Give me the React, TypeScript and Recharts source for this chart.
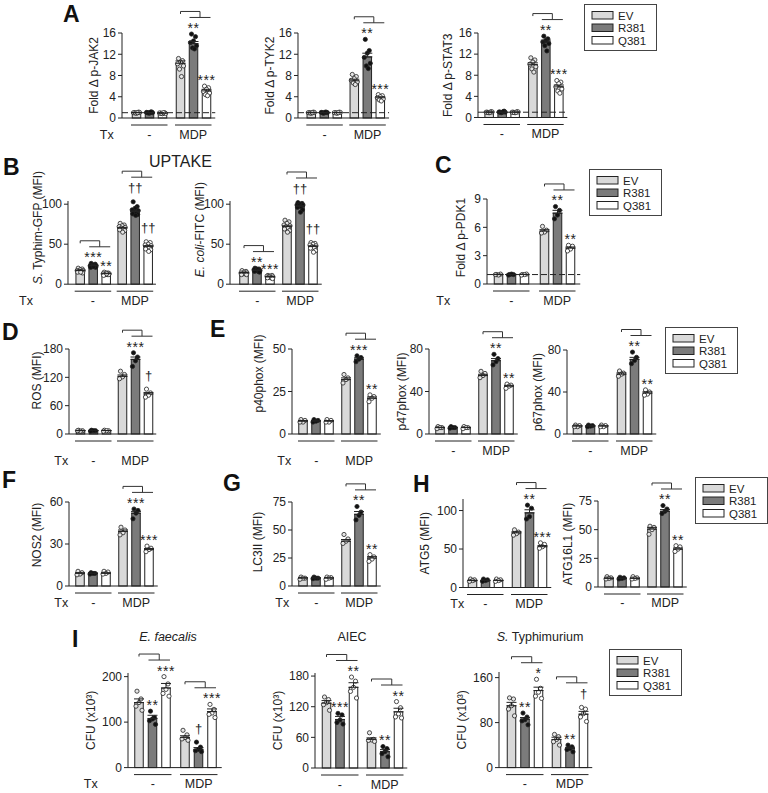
import React from 'react'
import { BarChart, Bar, XAxis, YAxis, ErrorBar, ReferenceLine } from 'recharts'

const GROUPS = ['-', 'MDP']
const GENOTYPES = ['EV', 'R381', 'Q381']
const FILLS = ['#d9d9d9', '#7b7b7b', '#ffffff']
const DOT_FILLS = ['#e6e6e6', '#111111', '#ffffff']

const FONT = '"Liberation Sans", Arial, Helvetica, sans-serif'
const INK = '#222'

// ---- A: fold change phospho ----
const A_TICKS = [0, 4, 8, 12, 16]
const JAK2_MEAN = [[1.0, 1.0, 0.9], [10.3, 14.0, 5.1]]
const JAK2_SEM = [[0.05, 0.05, 0.05], [0.45, 0.4, 0.3]]
const JAK2_DOTS = [
  [[1.0, 1.1, 0.9, 1.0, 1.05, 0.95, 1.0], [1.0, 1.15, 0.9, 1.05, 1.0, 0.95, 1.1], [0.9, 1.0, 0.8, 0.95, 0.85, 0.9, 1.0]],
  [[11.2, 10.8, 10.5, 10.2, 9.8, 9.2, 7.8], [15.8, 15.3, 14.5, 14.2, 13.6, 13.2, 13.0], [6.0, 5.7, 5.4, 5.0, 4.7, 4.4, 4.2]],
]
const JAK2_SIG = [['', '', ''], ['', '**', '***']]

const TYK2_MEAN = [[1.0, 1.0, 1.0], [7.0, 11.5, 3.8]]
const TYK2_SEM = [[0.05, 0.05, 0.05], [0.3, 0.7, 0.2]]
const TYK2_DOTS = [
  [[1.0, 1.1, 0.9, 1.0, 1.05, 0.95, 1.0], [1.0, 1.1, 0.95, 1.05, 1.0, 0.9, 1.1], [1.0, 1.1, 0.9, 1.0, 1.05, 0.95, 1.0]],
  [[8.2, 7.8, 7.4, 7.1, 6.8, 6.6, 6.3], [14.8, 12.7, 12.2, 11.4, 10.3, 9.8, 9.3], [4.4, 4.2, 4.0, 3.8, 3.6, 3.4, 3.2]],
]
const TYK2_SIG = [['', '', ''], ['', '**', '***']]

const STAT3_MEAN = [[1.0, 1.0, 1.0], [10.0, 14.3, 5.8]]
const STAT3_SEM = [[0.05, 0.05, 0.05], [0.35, 0.35, 0.35]]
const STAT3_DOTS = [
  [[1.0, 1.1, 0.9, 1.0, 1.05, 0.95, 1.0], [1.0, 1.2, 0.95, 1.05, 1.0, 0.9, 1.1], [1.0, 1.1, 0.9, 1.0, 1.05, 0.95, 1.0]],
  [[11.3, 10.9, 10.5, 10.1, 9.6, 9.2, 8.6], [15.4, 14.9, 14.6, 14.3, 14.0, 13.6, 12.6], [7.0, 6.7, 6.4, 5.8, 5.4, 5.0, 4.6]],
]
const STAT3_SIG = [['', '', ''], ['', '**', '***']]

// ---- B: uptake ----
const B_TICKS = [0, 50, 100]
const TYPHIM_MEAN = [[17, 23, 13], [70, 91, 47]]
const TYPHIM_SEM = [[0.7, 0.7, 0.6], [1.0, 1.5, 1.2]]
const TYPHIM_DOTS = [
  [[20, 19, 18, 17, 17, 16, 16, 15, 14, 15], [26, 25, 24, 23, 23, 22, 22, 21, 21, 22], [15, 14, 14, 13, 13, 12, 12, 11, 12, 13]],
  [[76, 74, 73, 72, 71, 70, 69, 68, 67, 65], [103, 97, 95, 93, 92, 90, 89, 88, 87, 86], [53, 52, 50, 49, 48, 47, 46, 44, 43, 41]],
]
const TYPHIM_SIG = [['', '***', '**'], ['', '††', '††']]

const ECOLI_MEAN = [[14, 17, 9], [72, 97, 47]]
const ECOLI_SEM = [[0.6, 0.6, 0.5], [1.0, 1.2, 1.0]]
const ECOLI_DOTS = [
  [[17, 16, 15, 14, 14, 13, 13, 12, 12], [20, 19, 19, 18, 17, 17, 16, 16, 15], [11, 11, 10, 10, 9, 9, 8, 8, 7]],
  [[80, 78, 76, 74, 73, 72, 70, 69, 67, 65], [102, 101, 100, 99, 99, 98, 97, 96, 93, 90], [52, 51, 50, 49, 48, 47, 46, 45, 42, 40]],
]
const ECOLI_SIG = [['', '**', '***'], ['', '††', '††']]

// ---- C ----
const PDK1_MEAN = [[1.0, 1.0, 1.0], [5.6, 7.5, 3.8]]
const PDK1_SEM = [[0.03, 0.03, 0.03], [0.15, 0.3, 0.12]]
const PDK1_DOTS = [
  [[1.0, 1.05, 0.95, 1.0], [1.0, 1.0, 1.05, 0.95], [1.0, 1.05, 1.0, 0.95]],
  [[6.1, 5.7, 5.5, 5.4], [8.2, 7.8, 7.3, 6.9], [4.1, 4.0, 3.7, 3.5]],
]
const PDK1_SIG = [['', '', ''], ['', '**', '**']]

// ---- D / E ----
const ROS_MEAN = [[7, 7, 7], [122, 158, 85]]
const ROS_SEM = [[0.5, 0.5, 0.5], [3, 5, 3]]
const ROS_DOTS = [
  [[8, 7, 6, 7], [8, 7, 7, 6], [8, 7, 7, 6]],
  [[133, 126, 121, 117], [172, 163, 155, 143], [95, 87, 82, 78]],
]
const ROS_SIG = [['', '', ''], ['', '***', '†']]

const P40_MEAN = [[7.5, 7.5, 7.5], [32, 44, 21]]
const P40_SEM = [[0.4, 0.4, 0.4], [1, 0.8, 0.8]]
const P40_DOTS = [
  [[8.5, 8, 7, 7], [8.5, 8, 7.5, 7], [8.5, 8, 7, 7]],
  [[35, 33, 32, 30], [46, 45, 44, 42.5], [23, 22, 21, 19]],
]
const P40_SIG = [['', '', ''], ['', '***', '**']]

const P47_MEAN = [[6, 6, 6], [55, 69, 45]]
const P47_SEM = [[0.3, 0.3, 0.3], [1.2, 2, 0.8]]
const P47_DOTS = [
  [[7, 6, 6, 5], [7, 6, 6, 5.5], [7, 6, 6, 5]],
  [[59, 57, 55, 53], [75, 71, 68, 65], [47, 46, 45, 43]],
]
const P47_SIG = [['', '', ''], ['', '**', '**']]

const P67_MEAN = [[7.5, 7.5, 7.5], [57, 71, 39]]
const P67_SEM = [[0.4, 0.4, 0.4], [1.2, 2, 1.2]]
const P67_DOTS = [
  [[8.5, 8, 7, 7], [8.5, 8, 7.5, 7], [8.5, 8, 7, 7]],
  [[60, 58, 57, 55], [78, 73, 70, 67], [42, 40, 38, 37]],
]
const P67_SIG = [['', '', ''], ['', '**', '**']]

// ---- F / G / H ----
const NOS2_MEAN = [[9, 9, 9], [39, 52, 26]]
const NOS2_SEM = [[0.5, 0.3, 0.5], [1, 1.3, 0.8]]
const NOS2_DOTS = [
  [[10.5, 9.5, 8.5, 8], [9.5, 9, 9, 8.5], [10.5, 10, 9, 8.5]],
  [[42, 40, 38, 36.5], [55, 54, 52, 48], [28.5, 27, 26, 24.5]],
]
const NOS2_SIG = [['', '', ''], ['', '***', '***']]

const LC3_MEAN = [[7, 7, 7], [40, 64, 25]]
const LC3_SEM = [[0.4, 0.4, 0.4], [1.5, 2.5, 1.2]]
const LC3_DOTS = [
  [[8, 7, 7, 6], [8, 7, 7, 6.5], [8, 7.5, 7, 6]],
  [[46, 42, 40, 38], [71, 66, 63, 59], [28, 26, 24, 22]],
]
const LC3_SIG = [['', '', ''], ['', '**', '**']]

const ATG5_MEAN = [[9, 9, 9], [71, 97, 53]]
const ATG5_SEM = [[0.5, 0.5, 0.5], [1.5, 4, 1.5]]
const ATG5_DOTS = [
  [[11, 10, 9, 8], [11, 10, 9, 8], [11, 10, 9, 8]],
  [[75, 72, 70, 68], [107, 103, 92, 89], [58, 56, 53, 51]],
]
const ATG5_SIG = [['', '', ''], ['', '**', '***']]

const ATG16_MEAN = [[7.5, 7.5, 7.5], [50.5, 66, 33]]
const ATG16_SEM = [[0.4, 0.4, 0.4], [1.5, 1.5, 1]]
const ATG16_DOTS = [
  [[9, 8, 7.5, 7], [8.5, 8, 7.5, 7], [9, 8, 7.5, 7]],
  [[53, 52, 50, 46], [71, 68, 66, 64], [36, 35, 33, 31]],
]
const ATG16_SIG = [['', '', ''], ['', '**', '**']]

// ---- I: CFU ----
const EF_MEAN = [[143, 108, 175], [66, 40, 123]]
const EF_SEM = [[8, 7, 10], [4, 4, 6]]
const EF_DOTS = [
  [[168, 151, 143, 135, 126], [124, 110, 107, 103, 95], [200, 184, 172, 163, 157]],
  [[82, 72, 66, 63, 60], [56, 45, 40, 37, 35], [139, 128, 120, 117, 110]],
]
const EF_SIG = [['', '**', '***'], ['', '†', '***']]

const AIEC_MEAN = [[127, 95, 158], [56, 32, 110]]
const AIEC_SEM = [[5, 6, 9], [3, 4, 7]]
const AIEC_DOTS = [
  [[139, 134, 128, 124, 113], [107, 104, 94, 89, 86], [178, 170, 158, 150, 137]],
  [[69, 56, 55, 54, 52], [42, 38, 32, 28, 22], [130, 118, 106, 100, 98]],
]
const AIEC_SIG = [['', '***', '**'], ['', '**', '**']]

const ST_MEAN = [[110, 86, 137], [50, 34, 95]]
const ST_SEM = [[6, 3, 6], [4, 2, 5]]
const ST_DOTS = [
  [[124, 122, 110, 104, 92], [97, 90, 85, 83, 76], [157, 141, 134, 127, 123]],
  [[59, 55, 50, 46, 40], [40, 37, 34, 32, 28], [107, 104, 96, 90, 82]],
]
const ST_SIG = [['', '**', '*'], ['', '**', '†']]

type PanelCfg = {
  id: string
  yTitle: React.ReactNode
  mean: number[][]
  sem: number[][]
  dots: number[][][]
  sig: string[][]
  max: number
  ticks: number[]
  axisX: number
  yTop: number
  yBot: number
  band: number
  off: number
  txDx?: number
  labDy?: number
  yLabDx: number
  yLabDy?: number
  dashed?: boolean
  gap?: number
}

const it = (s: string) => <tspan fontStyle="italic">{s}</tspan>

const PANELS: PanelCfg[] = [
  { id: 'jak2', yTitle: 'Fold Δ p-JAK2', mean: JAK2_MEAN, sem: JAK2_SEM, dots: JAK2_DOTS, sig: JAK2_SIG, max: 16, ticks: A_TICKS, axisX: 122, yTop: 33.3, yBot: 118.3, band: 44, off: 10, txDx: -42.5, yLabDx: 28, dashed: true },
  { id: 'tyk2', yTitle: 'Fold Δ p-TYK2', mean: TYK2_MEAN, sem: TYK2_SEM, dots: TYK2_DOTS, sig: TYK2_SIG, max: 16, ticks: A_TICKS, axisX: 297.7, yTop: 33.3, yBot: 118.3, band: 43, off: 9.3, yLabDx: 28, dashed: true },
  { id: 'stat3', yTitle: 'Fold Δ p-STAT3', mean: STAT3_MEAN, sem: STAT3_SEM, dots: STAT3_DOTS, sig: STAT3_SIG, max: 16, ticks: A_TICKS, axisX: 477.7, yTop: 33.3, yBot: 117.8, band: 43.7, off: 6.5, yLabDx: 29.5, dashed: true },
  { id: 'typhim', yTitle: <>{it('S.')}{' Typhim-GFP (MFI)'}</>, mean: TYPHIM_MEAN, sem: TYPHIM_SEM, dots: TYPHIM_DOTS, sig: TYPHIM_SIG, max: 104, ticks: B_TICKS, axisX: 68.3, yTop: 200.8, yBot: 284, band: 42, off: 7.7, txDx: -67, yLabDx: 30, yLabDy: -15 },
  { id: 'ecoli', yTitle: <>{it('E. coli')}{'-FITC (MFI)'}</>, mean: ECOLI_MEAN, sem: ECOLI_SEM, dots: ECOLI_DOTS, sig: ECOLI_SIG, max: 104, ticks: B_TICKS, axisX: 230, yTop: 200.8, yBot: 284, band: 43, off: 10, yLabDx: 30, yLabDy: -13 },
  { id: 'pdk1', yTitle: 'Fold Δ p-PDK1', mean: PDK1_MEAN, sem: PDK1_SEM, dots: PDK1_DOTS, sig: PDK1_SIG, max: 9, ticks: [0, 3, 6, 9], axisX: 487, yTop: 199, yBot: 284, band: 46, off: 7, txDx: -68, yLabDx: 26, yLabDy: -4, dashed: true },
  { id: 'ros', yTitle: 'ROS (MFI)', mean: ROS_MEAN, sem: ROS_SEM, dots: ROS_DOTS, sig: ROS_SIG, max: 180, ticks: [0, 60, 120, 180], axisX: 69, yTop: 349, yBot: 434, band: 42, off: 7, txDx: -32, labDy: 31, yLabDx: 32, yLabDy: -11 },
  { id: 'p40', yTitle: 'p40phox (MFI)', mean: P40_MEAN, sem: P40_SEM, dots: P40_DOTS, sig: P40_SIG, max: 50, ticks: [0, 25, 50], axisX: 292, yTop: 349, yBot: 434, band: 43, off: 7, txDx: -32, labDy: 31, yLabDx: 33, yLabDy: -18 },
  { id: 'p47', yTitle: 'p47phox (MFI)', mean: P47_MEAN, sem: P47_SEM, dots: P47_DOTS, sig: P47_SIG, max: 80, ticks: [0, 40, 80], axisX: 429, yTop: 349, yBot: 434, band: 43, off: 7, yLabDx: 27 },
  { id: 'p67', yTitle: 'p67phox (MFI)', mean: P67_MEAN, sem: P67_SEM, dots: P67_DOTS, sig: P67_SIG, max: 80, ticks: [0, 40, 80], axisX: 567, yTop: 350, yBot: 434, band: 44, off: 6, yLabDx: 29 },
  { id: 'nos2', yTitle: 'NOS2 (MFI)', mean: NOS2_MEAN, sem: NOS2_SEM, dots: NOS2_DOTS, sig: NOS2_SIG, max: 60, ticks: [0, 30, 60], axisX: 69, yTop: 502, yBot: 586, band: 43, off: 7, txDx: -32, yLabDx: 32, yLabDy: -9 },
  { id: 'lc3', yTitle: 'LC3II (MFI)', mean: LC3_MEAN, sem: LC3_SEM, dots: LC3_DOTS, sig: LC3_SIG, max: 75, ticks: [0, 25, 50, 75], axisX: 292, yTop: 502, yBot: 586, band: 43, off: 7, txDx: -34, yLabDx: 34.5, yLabDy: -2 },
  { id: 'atg5', yTitle: 'ATG5 (MFI)', mean: ATG5_MEAN, sem: ATG5_SEM, dots: ATG5_DOTS, sig: ATG5_SIG, max: 115, ticks: [0, 50, 100], axisX: 463, yTop: 498.5, yBot: 587, band: 44, off: 5, txDx: -28, labDy: 20, yLabDx: 38 },
  { id: 'atg16', yTitle: 'ATG16L1 (MFI)', mean: ATG16_MEAN, sem: ATG16_SEM, dots: ATG16_DOTS, sig: ATG16_SIG, max: 75, ticks: [0, 25, 50, 75], axisX: 598, yTop: 501, yBot: 587, band: 43, off: 7, labDy: 20, yLabDx: 30 },
  { id: 'ef', yTitle: 'CFU (x10³)', mean: EF_MEAN, sem: EF_SEM, dots: EF_DOTS, sig: EF_SIG, max: 208, ticks: [0, 100, 200], axisX: 128, yTop: 673.4, yBot: 768, band: 46, off: 7, txDx: -62, labDy: 20.5, yLabDx: 37, gap: 5 },
  { id: 'aiec', yTitle: 'CFU (x10³)', mean: AIEC_MEAN, sem: AIEC_SEM, dots: AIEC_DOTS, sig: AIEC_SIG, max: 186, ticks: [0, 60, 120, 180], axisX: 315, yTop: 673, yBot: 768, band: 45, off: 7, labDy: 20.5, yLabDx: 37, gap: 5 },
  { id: 'st', yTitle: 'CFU (x10³)', mean: ST_MEAN, sem: ST_SEM, dots: ST_DOTS, sig: ST_SIG, max: 170, ticks: [0, 80, 160], axisX: 499, yTop: 672.4, yBot: 768, band: 45, off: 8, labDy: 20.5, yLabDx: 37, gap: 5 },
]

const BAR = 8.5
const R = 2.1
const JIT = [-2, 2, 0, -3, 3, -1, 1, -2.5, 2.5, 0.5]
const ML = 70
const MT = 60
const MR = 10
const MB = 45
const TXT = 12.5

function sigLayout(sig: string, edge: number) {
  const dagger = sig.includes('†')
  const fs = dagger ? 13 : 14
  const base = dagger ? edge - 7 : edge + 1.5
  return { fs, base, top: base - (dagger ? 9.5 : 10) }
}

function barShape(c: PanelCfg, k: number, gap: number) {
  return (p: any) => {
    const { x, y, width, height, payload } = p
    const gi = payload.gi
    const v = c.mean[gi][k]
    const ppu = v > 0 ? height / v : 0
    const base = y + height
    const pitch = width + gap
    const cx0 = x + width / 2 - k * pitch
    const edge = (kk: number) => {
      const top = Math.max(c.mean[gi][kk] + c.sem[gi][kk], ...c.dots[gi][kk])
      return base - top * ppu - R - 0.5
    }
    const cx = x + width / 2
    const s = c.sig[gi][k]
    const sl = s ? sigLayout(s, edge(k)) : null

    let bracket = null
    if (k === 0 && c.sig[gi].some((t) => t)) {
      const tops = [1, 2].filter((kk) => c.sig[gi][kk]).map((kk) => sigLayout(c.sig[gi][kk], edge(kk)).top)
      const y2 = Math.min(...tops) - 5.5
      const y1 = y2 - 6
      const c1 = cx0 + pitch
      const c2 = cx0 + 2 * pitch
      const mid = (c1 + c2) / 2
      bracket = (
        <path
          d={`M${cx0},${y1 + 2.5} V${y1} H${mid} V${y2} M${c1 - 4},${y2} H${c2 + 4}`}
          fill="none"
          stroke="#333"
          strokeWidth={1}
        />
      )
    }

    return (
      <g>
        <rect x={x} y={y} width={width} height={height} fill={FILLS[k]} stroke={INK} strokeWidth={1} />
        {c.dots[gi][k].map((d, i) => (
          <circle
            key={i}
            cx={cx + JIT[i % JIT.length]}
            cy={base - d * ppu}
            r={R}
            fill={DOT_FILLS[k]}
            stroke={INK}
            strokeWidth={0.8}
          />
        ))}
        {sl && (
          <text x={cx} y={sl.base} textAnchor="middle" fontSize={sl.fs} fill={INK} letterSpacing={s.includes('*') ? 0.5 : 0}>
            {s}
          </text>
        )}
        {bracket}
      </g>
    )
  }
}

function Panel({ c }: { c: PanelCfg }) {
  const gap = c.gap ?? 4.5
  const groupW = 3 * BAR + 2 * gap
  const padL = c.off - (c.band - groupW) / 2
  const plotW = padL + 2 * c.band
  const plotH = c.yBot - c.yTop
  const W = ML + plotW + MR
  const H = MT + plotH + MB
  const half = groupW / 2 + 1

  const rows = GROUPS.map((g, gi) => {
    const r: any = { tx: g, gi }
    GENOTYPES.forEach((gt, k) => {
      r[gt] = c.mean[gi][k]
      r[gt + '_err'] = [0, c.sem[gi][k]]
    })
    return r
  })

  const titleX = ML - c.yLabDx
  const titleY = MT + plotH / 2 + (c.yLabDy ?? 0)

  const groupTick = (p: any) => {
    const { x, y, payload, index } = p
    return (
      <g>
        <line x1={x - half} x2={x + half} y1={y + 7} y2={y + 7} stroke={INK} strokeWidth={1} />
        <text x={x} y={y + (c.labDy ?? 21)} textAnchor="middle" fontSize={TXT} fill={INK}>
          {payload.value}
        </text>
        {index === 0 && c.txDx != null && (
          <text x={x + c.txDx} y={y + (c.labDy ?? 21)} textAnchor="middle" fontSize={TXT} fill={INK}>
            Tx
          </text>
        )}
      </g>
    )
  }

  const yTitle = () => (
    <text
      x={titleX}
      y={titleY}
      transform={`rotate(-90 ${titleX} ${titleY})`}
      textAnchor="middle"
      dominantBaseline="central"
      fontSize={12}
      fill={INK}
    >
      {c.yTitle}
    </text>
  )

  return (
    <div style={{ position: 'absolute', left: c.axisX - ML, top: c.yTop - MT }}>
      <BarChart
        width={W}
        height={H}
        data={rows}
        margin={{ top: MT, right: MR, bottom: 0, left: 0 }}
        barGap={gap}
        barSize={BAR}
      >
        <XAxis
          dataKey="tx"
          height={MB}
          padding={{ left: padL, right: 0 }}
          tickLine={false}
          tickSize={0}
          tickMargin={0}
          interval={0}
          axisLine={{ stroke: INK }}
          tick={groupTick}
        />
        <YAxis
          width={ML}
          domain={[0, c.max]}
          ticks={c.ticks}
          interval={0}
          tickSize={4}
          tickMargin={2}
          axisLine={{ stroke: INK }}
          tickLine={{ stroke: INK }}
          tick={{ fontSize: 12, fill: INK }}
          label={yTitle}
        />
        {c.dashed && <ReferenceLine y={1} stroke={INK} strokeDasharray="6 3" ifOverflow="visible" />}
        {GENOTYPES.map((gt, k) => (
          <Bar key={gt} dataKey={gt} fill={FILLS[k]} shape={barShape(c, k, gap)} isAnimationActive={false}>
            <ErrorBar dataKey={gt + '_err'} width={5} stroke={INK} strokeWidth={1} direction="y" />
          </Bar>
        ))}
      </BarChart>
    </div>
  )
}

function LegendBox({ x, y }: { x: number; y: number }) {
  return (
    <g>
      <rect x={x + 0.5} y={y + 0.5} width={72} height={46} fill="#fff" stroke="#444" />
      {GENOTYPES.map((g, i) => (
        <g key={g}>
          <rect x={x + 8} y={y + 7.5 + i * 12.5} width={21} height={7.5} fill={FILLS[i]} stroke={INK} />
          <text x={x + 34} y={y + 15.5 + i * 12.5} fontSize={11.5} fill={INK}>
            {g}
          </text>
        </g>
      ))}
    </g>
  )
}

const LETTERS: [string, number, number][] = [
  ['A', 63, 22], ['B', 3, 175], ['C', 435, 173], ['D', 2, 340], ['E', 210, 337],
  ['F', 2, 488], ['G', 223, 491], ['H', 413, 492], ['I', 72, 647],
]
const LEGENDS: [number, number][] = [[584, 4], [589, 169], [665, 327], [695, 477], [609, 649]]

export default function App() {
  return (
    <div
      style={{
        position: 'absolute',
        left: 0,
        top: 0,
        width: 768,
        height: 793,
        background: '#fff',
        fontFamily: FONT,
        overflow: 'hidden',
      }}
    >
      {PANELS.map((c) => (
        <Panel key={c.id} c={c} />
      ))}
      <svg width={768} height={793} style={{ position: 'absolute', left: 0, top: 0, pointerEvents: 'none' }}>
        {LETTERS.map(([t, x, y]) => (
          <text key={t} x={x} y={y} fontSize={23} fontWeight="bold" fill="#111">
            {t}
          </text>
        ))}
        <text x={149} y={167} fontSize={16} fill={INK}>UPTAKE</text>
        <text x={168} y={641} fontSize={TXT} textAnchor="middle" fill={INK} fontStyle="italic">E. faecalis</text>
        <text x={352} y={641} fontSize={TXT} textAnchor="middle" fill={INK}>AIEC</text>
        <text x={540} y={641} fontSize={TXT} textAnchor="middle" fill={INK}>
          <tspan fontStyle="italic">S.</tspan> Typhimurium
        </text>
        {LEGENDS.map(([x, y], i) => (
          <LegendBox key={i} x={x} y={y} />
        ))}
      </svg>
    </div>
  )
}
